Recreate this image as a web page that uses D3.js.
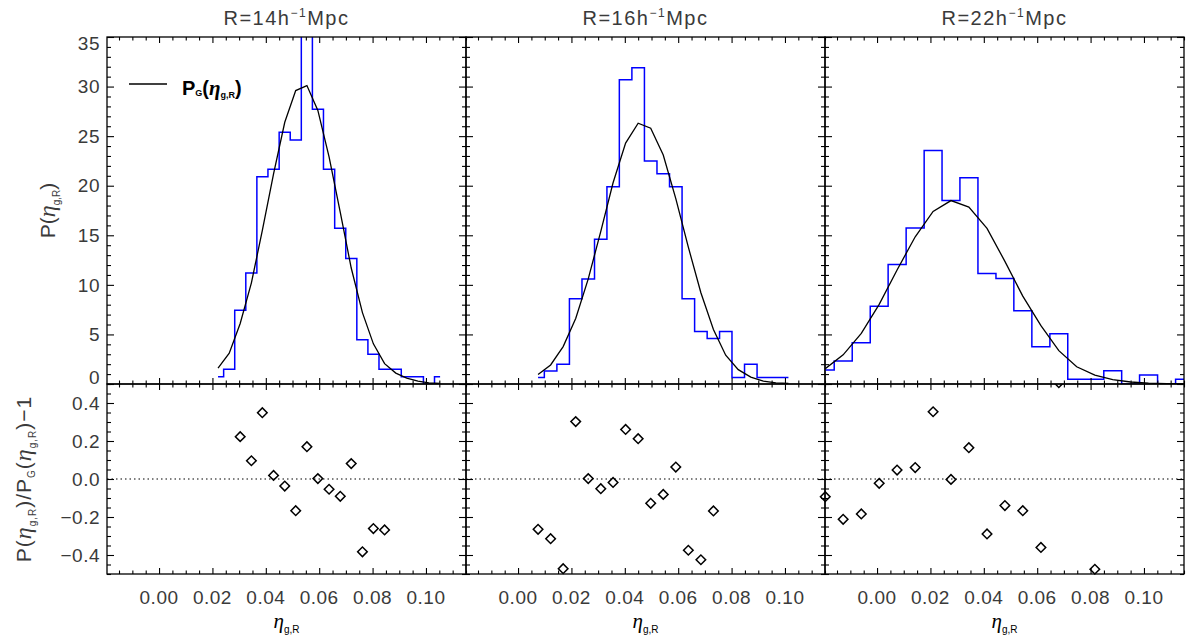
<!DOCTYPE html>
<html>
<head>
<meta charset="utf-8">
<script src="https://cdn.jsdelivr.net/npm/d3@7"></script>
<style>
  body { margin: 0; background: #fff; }
  svg { display: block; }
</style>
</head>
<body>
<svg id="chart" width="1189" height="642"></svg>
<script>
// ---- Data: histogram of eta_g,R per smoothing radius, Gaussian model and residuals ----
const radii = ["14", "16", "22"];

// R = 14 h^-1 Mpc
const etaR14   = [0.0221, 0.0263, 0.0304, 0.0346, 0.0387, 0.0429, 0.0471, 0.0512, 0.0554, 0.0595, 0.0637,
                  0.0679, 0.0720, 0.0762, 0.0803, 0.0845, 0.0887, 0.0928, 0.0970, 0.1011, 0.1053];
const histR14  = [0.74, 1.48, 7.45, 11.2, 20.9, 21.65, 25.4, 24.6, 35.3, 27.7, 21.65,
                  15.7, 12.65, 4.46, 2.99, 1.48, 1.48, 0.74, 0.74, 0, 0.74];
const gaussR14 = [1.6, 3.1, 6.1, 10.2, 15.5, 21.2, 26.4, 29.6, 30.1, 27.6, 22.9,
                  17.3, 11.7, 7.2, 4.05, 2.05, 1.1, 0.6, 0.3, 0.12, 0.05];
const residR14 = [null, null, 0.223, 0.096, 0.349, 0.019, -0.037, -0.167, 0.170, 0.002, -0.054,
                  -0.091, 0.081, -0.383, -0.261, -0.268, null, null, null, null, null];

// R = 16 h^-1 Mpc
const etaR16   = [0.0075, 0.0122, 0.0169, 0.0216, 0.0263, 0.0310, 0.0356, 0.0403, 0.0450, 0.0497, 0.0544,
                  0.0591, 0.0638, 0.0685, 0.0732, 0.0778, 0.0825, 0.0872, 0.0919, 0.0966, 0.1013];
const histR16  = [0.66, 1.32, 1.99, 8.6, 10.6, 14.6, 19.9, 30.7, 31.9, 22.5, 21.2,
                  19.9, 8.6, 5.3, 4.6, 5.3, 0.66, 1.99, 0.66, 0.66, 0.66];
const gaussR16 = [0.95, 1.92, 3.77, 6.6, 10.6, 15.4, 20.3, 24.3, 26.3, 25.8, 23.1,
                  18.7, 13.8, 9.2, 5.5, 2.9, 1.45, 0.7, 0.3, 0.12, 0.05];
const residR16 = [-0.265, -0.314, -0.472, 0.302, 0.002, -0.051, -0.018, 0.261, 0.212, -0.128, -0.081,
                  0.063, -0.375, -0.425, -0.168, null, null, null, null, null, null];

// R = 22 h^-1 Mpc
const etaR22   = [-0.0194, -0.0127, -0.0059, 0.0008, 0.0075, 0.0143, 0.0210, 0.0277, 0.0344, 0.0412, 0.0479,
                  0.0546, 0.0614, 0.0681, 0.0748, 0.0816, 0.0883, 0.0950, 0.1017, 0.1085, 0.1152];
const histR22  = [1.41, 2.32, 4.16, 7.85, 12.05, 15.74, 23.56, 18.5, 20.8, 11.15, 10.64,
                  7.38, 3.76, 5.07, 0.47, 0.47, 1.34, 0, 0.9, 0, 0.47];
const gaussR22 = [1.55, 2.94, 5.1, 8.03, 11.5, 14.85, 17.4, 18.5, 17.85, 15.7, 12.37,
                  8.86, 5.88, 3.36, 1.74, 0.9, 0.45, 0.2, 0.08, 0.03, 0.01];
const residR22 = [-0.093, -0.212, -0.184, -0.023, 0.047, 0.06, 0.354, -0.002, 0.165, -0.289, -0.14,
                  -0.167, -0.36, 0.507, null, -0.475, null, null, null, null, null];

// Axis ticks
const xTicks = [0.00, 0.02, 0.04, 0.06, 0.08, 0.10];
const yTicksTop = [0, 5, 10, 15, 20, 25, 30, 35];
const yTicksBottom = [-0.4, -0.2, 0.0, 0.2, 0.4];

const panels = [
  { radius: radii[0], eta: etaR14, hist: histR14, gauss: gaussR14, resid: residR14 },
  { radius: radii[1], eta: etaR16, hist: histR16, gauss: gaussR16, resid: residR16 },
  { radius: radii[2], eta: etaR22, hist: histR22, gauss: gaussR22, resid: residR22 }
];

// ---- Layout ----
const W = 1189, H = 642;
const panelLeft = [107, 466, 825], panelW = 359;
const topY0 = 37, midY = 384, botY1 = 574;
const xDomain = [-0.0195, 0.1150];
const TXT = "#3a3a3a";
const SANS = "'Liberation Sans', Arial, sans-serif";
const SERIF = "'Liberation Serif', 'DejaVu Serif', serif";

const svg = d3.select("#chart");
svg.append("rect").attr("width", W).attr("height", H).attr("fill", "#fff");

const yTop = d3.scaleLinear().domain([0, 35]).range([midY, topY0]);
const yBot = d3.scaleLinear().domain([-0.5, 0.5]).range([botY1, midY]);

const defs = svg.append("defs");
defs.append("clipPath").attr("id", "clip-resid")
  .append("rect").attr("x", 0).attr("y", midY).attr("width", W).attr("height", H - midY);

// minor tick positions
const xMinor = d3.range(-0.015, 0.1151, 0.005).filter(v => Math.abs(Math.round(v / 0.02) * 0.02 - v) > 1e-6);
const yTopMinor = d3.range(0, 35.01, 1).filter(v => v % 5 !== 0);
const yBotMinor = d3.range(-0.5, 0.5001, 0.05).filter(v => Math.abs(Math.round(v / 0.2) * 0.2 - v) > 1e-6);

function tickAxis(g, axisFn, scale, values, size) {
  g.call(axisFn(scale).tickValues(values).tickSize(-size).tickSizeOuter(0).tickFormat(""))
   .call(s => s.select(".domain").remove())
   .call(s => s.selectAll("line").attr("stroke", "#000").attr("stroke-width", 1.1));
}

// rich text helper: list of [text, {size, italic, serif, dy}]
function richText(sel, parts, baseSize, weight) {
  parts.forEach(([t, o]) => {
    o = o || {};
    const ts = sel.append("tspan").text(t)
      .attr("font-size", o.size || baseSize)
      .attr("font-family", o.serif ? SERIF : SANS);
    if (o.italic) ts.attr("font-style", "italic");
    if (o.dy) ts.attr("dy", o.dy);
    if (weight) ts.attr("font-weight", weight);
  });
}
const etaGR = (size, sub) => [
  ["η", { italic: true, serif: true, size: size + 3 }],
  ["g,R", { size: sub, dy: 5 }]
];

panels.forEach((p, i) => {
  const L = panelLeft[i], R = L + panelW;
  const x = d3.scaleLinear().domain(xDomain).range([L, R]);
  const g = svg.append("g");

  const clipId = "clip-top-" + i;
  defs.append("clipPath").attr("id", clipId)
    .append("rect").attr("x", L).attr("y", topY0).attr("width", panelW).attr("height", midY - topY0);

  const pts = p.eta.map((e, k) => ({ e, h: p.hist[k], gm: p.gauss[k], r: p.resid[k] }));

  // histogram (step at bin centres)
  g.append("path")
    .attr("clip-path", `url(#${clipId})`)
    .attr("d", d3.line().curve(d3.curveStep).x(d => x(d.e)).y(d => yTop(d.h))(pts))
    .attr("fill", "none").attr("stroke", "#0000ff").attr("stroke-width", 1.5);

  // Gaussian model
  g.append("path")
    .attr("clip-path", `url(#${clipId})`)
    .attr("d", d3.line().x(d => x(d.e)).y(d => yTop(d.gm))(pts))
    .attr("fill", "none").attr("stroke", "#000").attr("stroke-width", 1.3);

  // zero line in residual panel
  g.append("line")
    .attr("x1", L).attr("x2", R).attr("y1", yBot(0)).attr("y2", yBot(0))
    .attr("stroke", "#000").attr("stroke-width", 1.2).attr("stroke-dasharray", "1.5,3");

  // residual diamonds
  const diamond = d3.symbol(d3.symbolSquare, 46)();
  g.append("g").attr("clip-path", "url(#clip-resid)")
    .selectAll("path").data(pts.filter(d => d.r !== null)).join("path")
    .attr("d", diamond)
    .attr("transform", d => `translate(${x(d.e)},${yBot(d.r)}) rotate(45)`)
    .attr("fill", "none").attr("stroke", "#000").attr("stroke-width", 1.5);

  // frames
  [[topY0, midY], [midY, botY1]].forEach(([y0, y1]) => {
    g.append("rect").attr("x", L).attr("y", y0).attr("width", panelW).attr("height", y1 - y0)
      .attr("fill", "none").attr("stroke", "#000").attr("stroke-width", 1.3);
  });

  // ticks on all four sides, pointing inward
  [[topY0, midY, yTop, yTicksTop, yTopMinor], [midY, botY1, yBot, yTicksBottom, yBotMinor]].forEach(([y0, y1, ys, yMaj, yMin]) => {
    tickAxis(g.append("g").attr("transform", `translate(0,${y1})`), d3.axisBottom, x, xTicks, 6);
    tickAxis(g.append("g").attr("transform", `translate(0,${y1})`), d3.axisBottom, x, xMinor, 3.5);
    tickAxis(g.append("g").attr("transform", `translate(0,${y0})`), d3.axisTop, x, xTicks, 6);
    tickAxis(g.append("g").attr("transform", `translate(0,${y0})`), d3.axisTop, x, xMinor, 3.5);
    tickAxis(g.append("g").attr("transform", `translate(${L},0)`), d3.axisLeft, ys, yMaj, 7);
    tickAxis(g.append("g").attr("transform", `translate(${L},0)`), d3.axisLeft, ys, yMin, 4);
    tickAxis(g.append("g").attr("transform", `translate(${R},0)`), d3.axisRight, ys, yMaj, 7);
    tickAxis(g.append("g").attr("transform", `translate(${R},0)`), d3.axisRight, ys, yMin, 4);
  });

  // x tick labels
  g.selectAll("text.xt").data(xTicks).join("text")
    .attr("x", d => x(d)).attr("y", 604)
    .attr("text-anchor", "middle").attr("font-family", SANS).attr("font-size", 19)
    .attr("fill", TXT).attr("letter-spacing", 0.5)
    .text(d3.format(".2f"));

  // x axis title
  const xt = g.append("text").attr("x", (L + R) / 2).attr("y", 628)
    .attr("text-anchor", "middle").attr("fill", "#000");
  richText(xt, etaGR(18, 10), 18);

  // panel title
  const tt = g.append("text").attr("x", (L + R) / 2).attr("y", 25)
    .attr("text-anchor", "middle").attr("fill", TXT).attr("letter-spacing", 1.5);
  richText(tt, [
    ["R=" + p.radius + "h", {}],
    ["−1", { size: 12, dy: -8 }],
    ["Mpc", { dy: 8 }]
  ], 20);
});

// y tick labels (left column only)
const L0 = panelLeft[0];
svg.selectAll("text.yt").data(yTicksTop).join("text")
  .attr("x", L0 - 7).attr("y", d => Math.min(Math.max(yTop(d), topY0 + 6), midY - 7))
  .attr("dy", "0.35em").attr("text-anchor", "end")
  .attr("font-family", SANS).attr("font-size", 19).attr("fill", TXT).attr("letter-spacing", 0.5)
  .text(d => d);
svg.selectAll("text.yb").data(yTicksBottom).join("text")
  .attr("x", L0 - 7).attr("y", d => yBot(d))
  .attr("dy", "0.35em").attr("text-anchor", "end")
  .attr("font-family", SANS).attr("font-size", 19).attr("fill", TXT).attr("letter-spacing", 0.5)
  .text(d3.format(".1f"));

// y axis titles
const yl1 = svg.append("text")
  .attr("transform", `translate(55,${(topY0 + midY) / 2}) rotate(-90)`)
  .attr("text-anchor", "middle").attr("fill", TXT);
richText(yl1, [["P(", {}], ...etaGR(21, 10), [")", { dy: -5 }]], 21);

const yl2 = svg.append("text")
  .attr("transform", `translate(31,${(midY + botY1) / 2}) rotate(-90)`)
  .attr("text-anchor", "middle").attr("fill", TXT).attr("letter-spacing", 1);
richText(yl2, [
  ["P(", {}], ...etaGR(21, 10), [")/P", { dy: -5 }],
  ["G", { size: 10, dy: 4 }], ["(", { dy: -4 }],
  ...etaGR(21, 10), [")−1", { dy: -5 }]
], 21);

// legend
svg.append("line").attr("x1", 129).attr("x2", 167).attr("y1", 84).attr("y2", 84)
  .attr("stroke", "#000").attr("stroke-width", 1.4);
const lg = svg.append("text").attr("x", 182).attr("y", 95).attr("fill", "#000");
richText(lg, [
  ["P", {}], ["G", { size: 9, dy: 1 }], ["(", { dy: -1 }],
  ["η", { italic: true, serif: true, size: 21 }], ["g,R", { size: 9, dy: 3 }], [")", { dy: -3 }]
], 20, "bold");
</script>
</body>
</html>
